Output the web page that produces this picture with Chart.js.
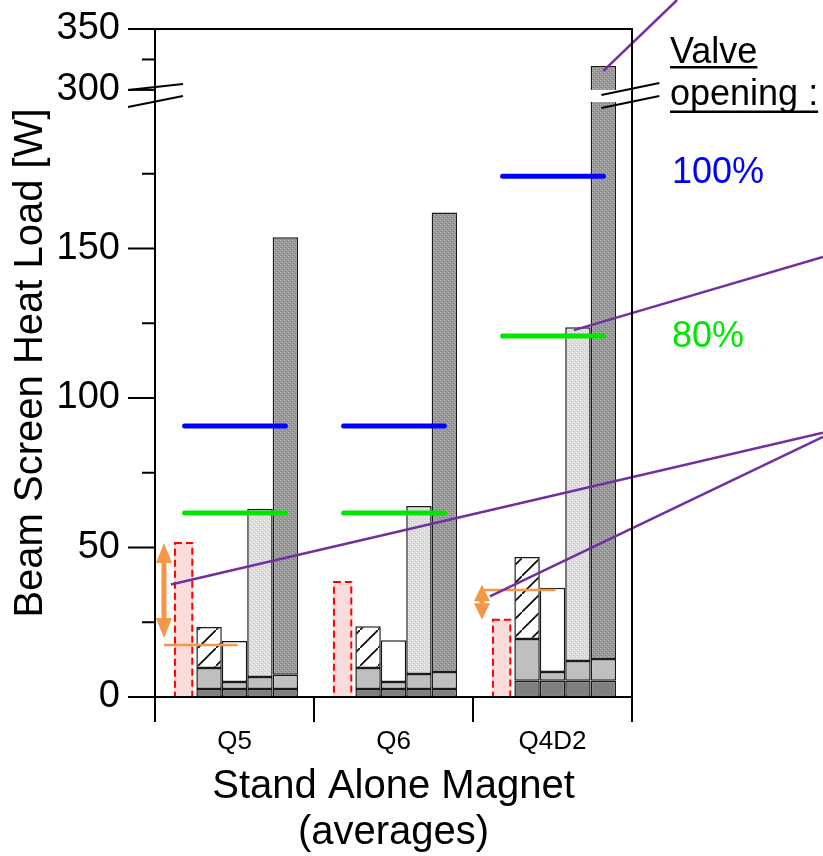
<!DOCTYPE html>
<html>
<head>
<meta charset="utf-8">
<script src="https://cdn.jsdelivr.net/npm/chart.js@4.4.1/dist/chart.umd.min.js"></script>
<style>
html, body { margin: 0; padding: 0; background: #fff; }
</style>
</head>
<body>
<canvas id="chart" width="823" height="856"></canvas>
<script>
////// data

const categories = ['Q5', 'Q6', 'Q4D2'];
const measuredLoad = [51.5, 38.5, 25.8];      // red dashed bars
const baseLoad = [2.7, 2.7, 5.4];             // dark block at the bottom of every bar
const hatchMid = [7.0, 7.0, 14.0];
const hatchTop = [13.7, 14.0, 27.4];
const whiteMid = [2.3, 2.3, 3.0];
const whiteTop = [13.7, 14.0, 28.1];
const lightMid = [4.0, 5.0, 6.6];
const lightTop = [56.3, 56.2, 111.7];
const darkMid = [4.7, 5.7, 7.3];
const darkTop = [146.4, 153.6, 307.0];
const valve100 = [90.6, 90.6, 174.2];
const valve80 = [61.5, 61.5, 120.7];
const orangeLevel = [17.4, null, 35.8];
const arrowLow = [19.7, null, 25.8];
const arrowHigh = [51.5, null, 37.5];
const lowTicks = [0, 25, 50, 75, 100, 125, 150, 175];
const highTicks = [300, 325, 350];

// broken axis: lower part 0..201, upper part 295..350
const LOW_MAX = 201, HIGH_MIN = 295, HIGH_MAX = 350;
const BREAK_LOW = 199, BREAK_HIGH = 300;

const FONT = '"Liberation Sans", Arial, sans-serif';
const canvas = document.getElementById('chart');
const ctx0 = canvas.getContext('2d');

function pattern(size, paint) {
    const c = document.createElement('canvas');
    c.width = c.height = size;
    paint(c.getContext('2d'), size);
    return ctx0.createPattern(c, 'repeat');
}

const hatchFill = pattern(18, (g, s) => {
    g.fillStyle = '#fff';
    g.fillRect(0, 0, s, s);
    g.strokeStyle = '#000';
    g.lineWidth = 1.6;
    g.beginPath();
    g.moveTo(-2, s + 2);
    g.lineTo(s + 2, -2);
    g.stroke();
});
const lightFill = pattern(4, (g) => {
    g.fillStyle = '#dcdcdc'; g.fillRect(0, 0, 4, 4);
    g.fillStyle = '#f2f2f2'; g.fillRect(0, 0, 1, 1); g.fillRect(2, 2, 1, 1);
    g.fillStyle = '#cacaca'; g.fillRect(1, 3, 1, 1); g.fillRect(3, 1, 1, 1);
});
const darkFill = pattern(4, (g) => {
    g.fillStyle = '#9a9a9a'; g.fillRect(0, 0, 4, 4);
    g.fillStyle = '#b6b6b6'; g.fillRect(0, 0, 1, 1); g.fillRect(2, 2, 1, 1);
    g.fillStyle = '#7e7e7e'; g.fillRect(1, 3, 1, 1); g.fillRect(3, 1, 1, 1);
});

function seg(label, stack, data, color, axis) {
    return {
        label: label,
        stack: stack,
        data: data,
        yAxisID: axis || 'y',
        backgroundColor: color,
        borderColor: '#1a1a1a',
        borderWidth: 1.5,
        borderSkipped: false,
        barPercentage: 1,
        categoryPercentage: 0.8
    };
}

// tall bar: lower piece stops at the top of the lower axis, upper piece drawn on the upper axis
const darkTopLow = darkTop.map((v, i) => Math.min(v, LOW_MAX - baseLoad[i] - darkMid[i]));
const darkTopHigh = darkTop.map((v, i) => {
    const total = v + baseLoad[i] + darkMid[i];
    return total > LOW_MAX ? [HIGH_MIN, total] : null;
});

const datasets = [
    {
        label: 'measured', stack: 's0', data: measuredLoad,
        backgroundColor: '#fadcdc', borderWidth: 0,
        barPercentage: 0.76, categoryPercentage: 0.8
    },
    seg('hatch base', 's1', baseLoad, '#7f7f7f'),
    seg('hatch mid', 's1', hatchMid, '#bfbfbf'),
    seg('hatch top', 's1', hatchTop, hatchFill),
    seg('white base', 's2', baseLoad, '#7f7f7f'),
    seg('white mid', 's2', whiteMid, '#bfbfbf'),
    seg('white top', 's2', whiteTop, '#ffffff'),
    seg('light base', 's3', baseLoad, '#7f7f7f'),
    seg('light mid', 's3', lightMid, '#bfbfbf'),
    seg('light top', 's3', lightTop, lightFill),
    seg('dark base', 's4', baseLoad, '#7f7f7f'),
    seg('dark mid', 's4', darkMid, '#bfbfbf'),
    seg('dark top', 's4', darkTopLow, darkFill),
    seg('dark top high', 's4', darkTopHigh, darkFill, 'y2')
];

const extras = {
    id: 'extras',
    afterDatasetsDraw(chart) {
        const {ctx, chartArea: a, scales} = chart;
        const yl = scales.y, yh = scales.y2;
        const els = name => chart.getDatasetMeta(chart.data.datasets.findIndex(d => d.label === name)).data;
        const pink = els('measured'), white = els('white top'), light = els('light top');
        const dark = els('dark top'), darkHigh = els('dark top high');
        const line = (x1, y1, x2, y2) => { ctx.beginPath(); ctx.moveTo(x1, y1); ctx.lineTo(x2, y2); ctx.stroke(); };
        ctx.save();

        // dashed outline of the measured bars
        ctx.strokeStyle = '#ff0000';
        ctx.lineWidth = 2;
        ctx.setLineDash([7, 4]);
        pink.forEach(b => ctx.strokeRect(b.x - b.width / 2 + 1, b.y, b.width - 2, b.base - b.y));
        ctx.setLineDash([]);

        // break in the tall bar
        const bandTop = yh.getPixelForValue(BREAK_HIGH), bandBot = yl.getPixelForValue(BREAK_LOW);
        ctx.lineWidth = 2;
        ctx.strokeStyle = '#000';
        darkTopHigh.forEach((v, i) => {
            if (!v) return;
            const b = darkHigh[i];
            ctx.fillStyle = '#fff';
            ctx.fillRect(b.x - b.width / 2 - 2, bandTop, b.width + 4, bandBot - bandTop);
            line(b.x - 2, bandTop + 5, b.x + 56, bandTop - 7);
            line(b.x - 2, bandBot + 6, b.x + 56, bandBot - 6);
        });

        // valve opening levels
        ctx.lineCap = 'round';
        ctx.lineWidth = 5;
        categories.forEach((c, i) => {
            const x1 = pink[i].x + 1, x2 = dark[i].x;
            ctx.strokeStyle = '#0000ff';
            line(x1, yl.getPixelForValue(valve100[i]), x2, yl.getPixelForValue(valve100[i]));
            ctx.strokeStyle = '#00e600';
            line(x1, yl.getPixelForValue(valve80[i]), x2, yl.getPixelForValue(valve80[i]));
        });
        ctx.lineCap = 'butt';

        // orange level and double arrows, purple call-outs
        const arrowX = [];
        categories.forEach((c, i) => {
            arrowX[i] = pink[i].x - pink[i].width / 2 - 10;
            if (orangeLevel[i] === null) return;
            const yo = yl.getPixelForValue(orangeLevel[i]);
            ctx.strokeStyle = '#f79646';
            ctx.lineWidth = 2.5;
            line(arrowX[i], yo, white[i].x + 3, yo);
            const x = arrowX[i], yA = yl.getPixelForValue(arrowHigh[i]), yB = yl.getPixelForValue(arrowLow[i]);
            const hl = Math.min(20, (yB - yA) / 2 - 1);
            ctx.fillStyle = '#f79646';
            ctx.beginPath();
            ctx.moveTo(x, yA);
            ctx.lineTo(x + 8, yA + hl); ctx.lineTo(x + 2.5, yA + hl);
            ctx.lineTo(x + 2.5, yB - hl); ctx.lineTo(x + 8, yB - hl);
            ctx.lineTo(x, yB);
            ctx.lineTo(x - 8, yB - hl); ctx.lineTo(x - 2.5, yB - hl);
            ctx.lineTo(x - 2.5, yA + hl); ctx.lineTo(x - 8, yA + hl);
            ctx.closePath();
            ctx.fill();
        });

        ctx.strokeStyle = '#7030a0';
        ctx.lineWidth = 2.5;
        const W = chart.width;
        const toEdge = (x, y, slope) => line(x, y, W, y + slope * (W - x));
        const mid = i => (yl.getPixelForValue(arrowHigh[i]) + yl.getPixelForValue(arrowLow[i])) / 2 - 6;
        toEdge(arrowX[0] + 7, mid(0), -0.233);
        toEdge(arrowX[2] + 8, mid(2), -0.479);
        toEdge(light[2].x - 4, light[2].y + 3, -0.294);
        const t = darkHigh[2];
        line(t.x, t.y + 5, t.x + (t.y + 5) * 1.04, 0);

        // frame, y ticks and axis break marks
        ctx.strokeStyle = '#000';
        ctx.lineWidth = 2;
        ctx.strokeRect(a.left, a.top, a.right - a.left, a.bottom - a.top);
        const tick = (scale, v) => {
            const y = scale.getPixelForValue(v);
            line(a.left - (v % 50 === 0 ? 27 : 13), y, a.left, y);
        };
        lowTicks.forEach(v => tick(yl, v));
        highTicks.forEach(v => tick(yh, v));
        line(a.left - 27, bandTop, a.left + 28, bandTop - 6);
        line(a.left - 27, bandBot + 5, a.left + 28, bandBot - 6);

        // y title
        ctx.save();
        ctx.translate(31, (a.top + a.bottom) / 2);
        ctx.rotate(-Math.PI / 2);
        ctx.fillStyle = '#000';
        ctx.font = '40px ' + FONT;
        ctx.textAlign = 'center';
        ctx.textBaseline = 'middle';
        ctx.fillText('Beam Screen Heat Load [W]', 0, 0);
        ctx.restore();

        // valve legend on the right
        ctx.font = '36px ' + FONT;
        ctx.textAlign = 'left';
        ctx.textBaseline = 'alphabetic';
        ctx.fillStyle = '#000';
        ctx.fillText('Valve', 670, 63);
        ctx.fillRect(670, 66, ctx.measureText('Valve').width, 2.5);
        ctx.fillText('opening :', 670, 105);
        ctx.fillRect(670, 110.5, ctx.measureText('opening :').width, 2.5);
        ctx.fillStyle = '#0000ff';
        ctx.fillText('100%', 672, 183);
        ctx.fillStyle = '#00e600';
        ctx.fillText('80%', 672, 347);

        ctx.restore();
    }
};

const yTicks = {
    color: '#000',
    padding: 0,
    autoSkip: false,
    font: { family: FONT, size: 38 },
    callback: v => (v % 50 === 0 ? v : '')
};

new Chart(ctx0, {
    type: 'bar',
    data: { labels: categories, datasets: datasets },
    options: {
        responsive: false,
        animation: false,
        layout: { padding: { top: 29, right: 191, bottom: 0, left: 0 } },
        plugins: { legend: { display: false }, tooltip: { enabled: false } },
        scales: {
            x: {
                stacked: true,
                offset: true,
                grid: { offset: true, drawOnChartArea: false, color: '#000', lineWidth: 2, tickLength: 25 },
                border: { display: false },
                ticks: {
                    color: '#000', padding: 4, maxRotation: 0,
                    font: { family: '"Liberation Sans Narrow", "Liberation Sans", Arial', size: 26 }
                },
                title: {
                    display: true,
                    text: ['Stand Alone Magnet', '(averages)'],
                    color: '#000',
                    font: { family: FONT, size: 40, lineHeight: 1.15 },
                    padding: { top: 0, bottom: 0 }
                },
                afterFit: s => { s.height = 159; }
            },
            y: {
                position: 'left',
                stacked: true,
                stack: 'side',
                stackWeight: 601,
                weight: 0,
                min: 0,
                max: LOW_MAX,
                grid: { display: false, drawTicks: true, tickLength: 35 },
                border: { display: false },
                afterBuildTicks: s => { s.ticks = lowTicks.map(v => ({ value: v })); },
                ticks: yTicks,
                afterFit: s => { s.width = 155; }
            },
            y2: {
                position: 'left',
                stack: 'side',
                stackWeight: 67,
                weight: 1,
                min: HIGH_MIN,
                max: HIGH_MAX,
                grid: { display: false, drawTicks: true, tickLength: 35 },
                border: { display: false },
                afterBuildTicks: s => { s.ticks = highTicks.map(v => ({ value: v })); },
                ticks: yTicks,
                afterFit: s => { s.width = 155; }
            }
        }
    },
    plugins: [extras]
});
</script>
</body>
</html>
